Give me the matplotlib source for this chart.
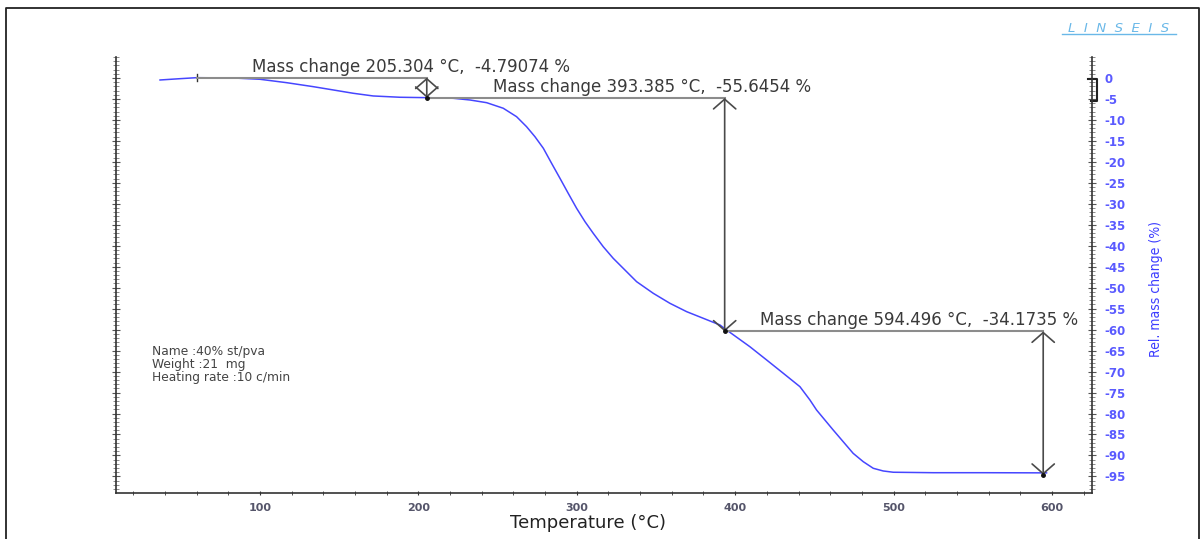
import matplotlib
matplotlib.use("Agg")
import matplotlib.pyplot as plt
from matplotlib.lines import Line2D
from matplotlib.patches import FancyArrowPatch, ArrowStyle
from matplotlib.ticker import MultipleLocator

# TGA curve
temp = [36.9, 49.5, 60.0, 83.1, 100.0, 116.8, 133.6, 146.3, 158.9, 171.5, 188.4,
        206.3, 222.0, 232.6, 243.1, 253.6, 262.0, 268.3, 273.6, 278.9, 284.1,
        289.4, 294.6, 299.9, 305.2, 310.4, 316.7, 323.0, 330.4, 337.8, 348.3,
        358.8, 369.4, 379.9, 390.4, 394.6, 409.3, 419.9, 430.4, 440.9, 447.2,
        451.4, 461.9, 474.5, 480.9, 487.2, 493.5, 499.8, 525.1, 556.6, 596.6]
mass = [-0.48, -0.17, 0.07, 0.0, -0.31, -1.12, -2.07, -2.86, -3.65, -4.29, -4.6,
        -4.7, -4.84, -5.25, -5.89, -7.22, -9.23, -11.61, -14.0, -16.76, -20.34,
        -23.92, -27.49, -31.07, -34.26, -37.03, -40.22, -42.99, -45.78, -48.57,
        -51.34, -53.72, -55.72, -57.3, -58.89, -60.08, -64.07, -67.24, -70.41,
        -73.6, -76.77, -79.16, -83.93, -89.49, -91.49, -93.06, -93.7, -94.0,
        -94.11, -94.11, -94.15]

# mass change steps
step_t0 = [60.0, 205.304, 393.385]
step_t1 = [205.304, 393.385, 594.496]
step_drop = [-4.79074, -55.6454, -34.1735]
step_start = [0.07, -4.79074, -4.79074 - 55.6454]
label_x = [95, 247, 416]

info_lines = ["Name :40% st/pva", "Weight :21  mg", "Heating rate :10 c/min"]
xticks = [100, 200, 300, 400, 500, 600]
yticks = list(range(0, -100, -5))

W, H = 1201, 539
fig = plt.figure(figsize=(W / 100, H / 100), dpi=100)
ax = fig.add_axes([116 / W, 46 / H, 976 / W, 436 / H])

ax.plot(temp, mass, color="#4646ff", lw=1.1)
ax.set_xlim(9.1, 625.3)
ax.set_ylim(-98.95, 5.0)

for t0, t1, y0, d, lx in zip(step_t0, step_t1, step_start, step_drop, label_x):
    y1 = y0 + d
    ax.plot([t0, t1], [y0, y0], color="#8c8c8c", lw=1.5, zorder=3)
    arr = FancyArrowPatch((t1, y0), (t1, y1), shrinkA=0, shrinkB=0,
                          arrowstyle=ArrowStyle("<->", head_length=7, head_width=8),
                          mutation_scale=1, color="#4a4a4a", lw=1.2, zorder=4)
    ax.add_patch(arr)
    ax.plot([t1], [y1], "o", color="#111111", ms=2.5, zorder=5)
    ax.annotate(f"Mass change {t1:.3f} °C,  {d:g} %", (lx, y0),
                xytext=(0, 1.5), textcoords="offset points", ha="left", va="bottom",
                fontsize=12, color="#3a3a3a", zorder=6)

# small start tick of first step
ax.plot([step_t0[0]] * 2, [step_start[0] + 0.9, step_start[0] - 0.9], color="#333333", lw=1)

# bracket on right axis for first step
br = ax.get_yaxis_transform()
ax.plot([0.996, 1.005, 1.005, 0.999], [step_start[0] - 0.2, step_start[0] - 0.2,
        step_start[0] + step_drop[0] - 0.8, step_start[0] + step_drop[0] - 0.8],
        transform=br, color="#222222", lw=1.5, clip_on=False)

for i, line in enumerate(info_lines):
    fig.text(152 / W, 1 - (352 + 12.5 * i) / H, line, fontsize=8.8,
             color="#444444", va="center", ha="left")

ax.spines["top"].set_visible(False)
for s in ["left", "right", "bottom"]:
    ax.spines[s].set_color("#333333")
    ax.spines[s].set_linewidth(1.2)

ax.set_xticks(xticks)
ax.xaxis.set_minor_locator(MultipleLocator(20))
ax.tick_params(axis="x", which="both", direction="inout", length=3, color="#333333",
               labelsize=8, labelcolor="#55556a", pad=6)
for lbl in ax.get_xticklabels():
    lbl.set_fontweight("bold")

ax.yaxis.tick_right()
ax.set_yticks(yticks)
ax.set_yticklabels([str(v) for v in yticks])
ax.yaxis.set_minor_locator(MultipleLocator(1))
ax.tick_params(axis="y", which="major", direction="inout", length=6, color="#555555",
               labelsize=8.5, labelcolor="#5a5aff", pad=6, left=True)
ax.tick_params(axis="y", which="minor", direction="inout", length=4, color="#777777",
               left=True)
for lbl in ax.get_yticklabels():
    lbl.set_fontweight("bold")

fig.text(588 / W, 1 - 523 / H, "Temperature (°C)", fontsize=13, color="#222222",
         ha="center", va="center")
fig.text(1156 / W, 1 - 289 / H, "Rel. mass change (%)", rotation=90,
         ha="center", va="center", fontsize=10, color="#3c3cff",
         family="DejaVu Sans", fontstretch="condensed")

fig.text(1119 / W, 1 - 28 / H, "L  I  N  S  E  I  S", ha="center", va="center",
         fontsize=9.5, style="italic", color="#6ab8e8")
fig.add_artist(Line2D([1062 / W, 1176 / W], [1 - 34 / H] * 2, color="#6ab8e8", lw=1))

# outer frame
fig.add_artist(Line2D([6 / W, 6 / W, 1199 / W, 1199 / W],
                      [0, 1 - 8 / H, 1 - 8 / H, 0], color="#222222", lw=1.3))

fig.savefig("out.png", dpi=100)
